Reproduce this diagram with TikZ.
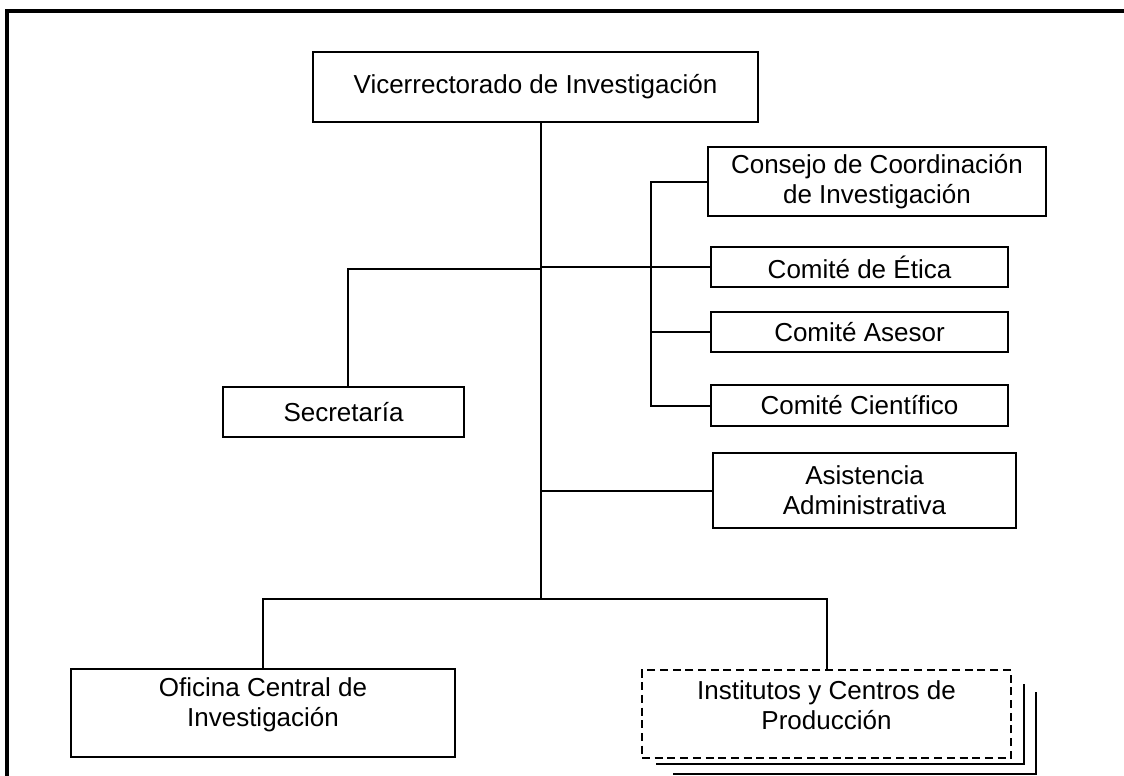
\documentclass[tikz,border=0pt]{standalone}
\usepackage{fontspec}
\setmainfont{Liberation Sans}
\begin{document}
\begin{tikzpicture}[x=1pt, y=-1pt, line width=2pt,
  font=\fontsize{26}{30}\selectfont,
  orgbox/.style={draw, rectangle, align=center, inner sep=0pt},
  dashbox/.style={orgbox, dash pattern=on 8pt off 4.7pt}]
\useasboundingbox (0,0) rectangle (1124,776);
\draw[line width=3.3pt] (7,800) -- (7,11) -- (1150,11);
\node[orgbox, minimum width=445pt, minimum height=70pt] (vice) at (535.5,87) {Vicerrectorado de Investigación};
\node[orgbox, minimum width=338pt, minimum height=69pt] (consejo) at (877,181.5) {Consejo de Coordinación\\de Investigación};
\node[orgbox, minimum width=297pt, minimum height=40pt] (etica) at (859.5,267) {Comité de Ética};
\node[orgbox, minimum width=297pt, minimum height=40pt] (asesor) at (859.5,332) {Comité Asesor};
\node[orgbox, minimum width=297pt, minimum height=41pt] (cient) at (859.5,405.5) {Comité Científico};
\node[orgbox, minimum width=241pt, minimum height=50pt] (sec) at (343.5,412) {Secretaría};
\node[orgbox, minimum width=303pt, minimum height=75pt] (asist) at (864.5,490.5) {Asistencia\\Administrativa};
\node[orgbox, minimum width=384pt, minimum height=88pt,
  label={[align=center, yshift=8pt]center:Oficina Central de\\Investigación}] (ofi) at (263,713) {};
\node[dashbox, minimum width=369pt, minimum height=88pt,
  label={[align=center, yshift=9pt]center:Institutos y Centros de\\Producción}] (inst) at (826.5,714) {};
\draw ([xshift=15pt, yshift=-5pt]inst.south west) -| ([xshift=12pt, yshift=-15pt]inst.north east);
\draw ([xshift=32pt, yshift=-15pt]inst.south west) -| ([xshift=24pt, yshift=-23pt]inst.north east);
\coordinate (trunk) at (541,599);
\coordinate (secJ) at (348,269);
\coordinate (cbus) at (651,0);
\draw (vice.south -| trunk) -- (trunk);
\draw (secJ -| trunk) -- (secJ) -- (secJ |- sec.north);
\draw (etica.west -| trunk) -- (etica.west);
\draw (consejo.west) -- (consejo.west -| cbus) -- (cient.west -| cbus) -- (cient.west);
\draw (asesor.west -| cbus) -- (asesor.west);
\draw (asist.west -| trunk) -- (asist.west);
\draw (ofi.north) |- (trunk) -| (inst.north);
\end{tikzpicture}
\end{document}
